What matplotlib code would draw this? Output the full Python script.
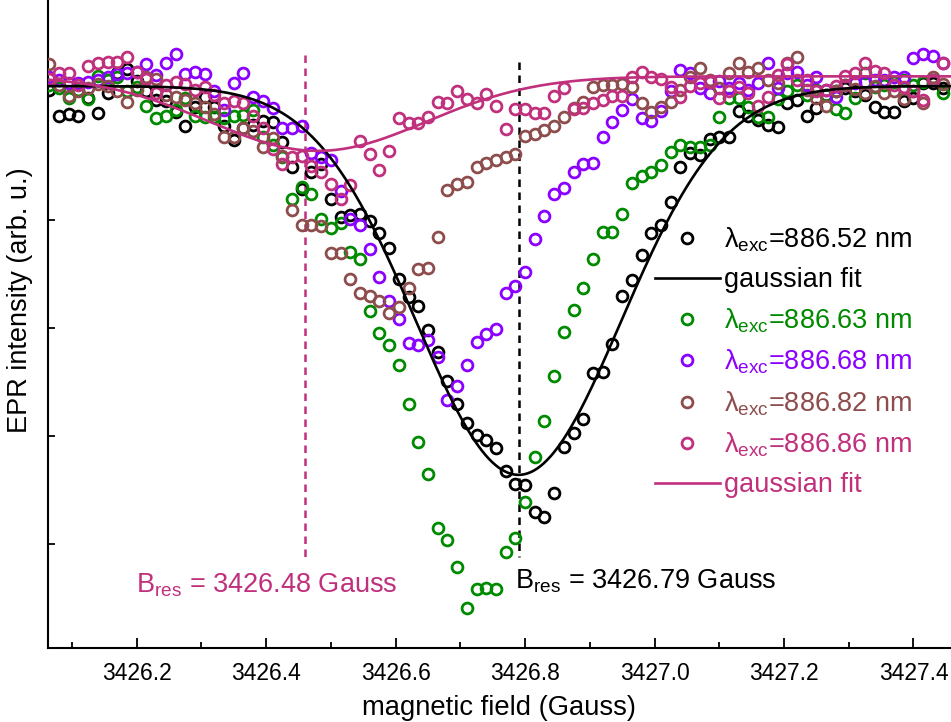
import numpy as np
import matplotlib
matplotlib.use("Agg")
import matplotlib.pyplot as plt

plt.rcParams['font.family'] = ['Liberation Sans', 'DejaVu Sans']
plt.rcParams['mathtext.fontset'] = 'custom'
plt.rcParams['mathtext.rm'] = 'Liberation Sans'

# field sweep (Gauss): uniform steps of 0.015 G
field_start = 3426.065
field_step = 0.015
n_points = 93

# EPR intensity (arb. u.) for each excitation wavelength
epr_88652 = [0.20, -0.04, -0.02, -0.04, 0.13, -0.01, 0.18, 0.36, 0.40, 0.29,
             0.19, 0.11, 0.10, 0.00, -0.13, 0.05, 0.14, 0.05, -0.13, -0.26,
             -0.15, -0.12, -0.08, -0.09, -0.28, -0.51, -0.71, -0.56, -0.48, -0.81,
             -0.97, -0.95, -0.94, -1.01, -1.12, -1.26, -1.55, -1.71, -1.80, -2.02,
             -2.22, -2.49, -2.70, -2.88, -2.99, -3.04, -3.11, -3.32, -3.44, -3.45,
             -3.70, -3.75, -3.53, -3.10, -2.97, -2.84, -2.42, -2.41, -2.15, -1.70,
             -1.56, -1.32, -1.12, -1.05, -0.83, -0.51, -0.38, -0.40, -0.25, -0.23,
             -0.23, 0.01, -0.04, -0.07, -0.12, -0.14, 0.08, 0.11, -0.04, 0.04,
             0.16, 0.19, 0.22, 0.19, 0.16, 0.05, 0.00, 0.00, 0.10, 0.13,
             0.27, 0.27, 0.22]

epr_88663 = [0.25, 0.22, 0.13, 0.20, 0.12, 0.33, 0.30, 0.32, 0.19, 0.23,
             0.06, -0.06, -0.04, 0.02, 0.13, -0.04, -0.05, -0.05, -0.06, -0.04,
             -0.03, 0.02, -0.23, -0.31, -0.42, -0.81, -0.69, -0.76, -0.99, -1.07,
             -1.03, -1.30, -1.36, -1.84, -2.05, -2.16, -2.34, -2.70, -3.06, -3.35,
             -3.85, -3.96, -4.21, -4.59, -4.42, -4.41, -4.42, -4.07, -3.94, -3.61,
             -3.19, -2.86, -2.44, -2.04, -1.83, -1.63, -1.36, -1.11, -1.11, -0.94,
             -0.66, -0.59, -0.56, -0.49, -0.37, -0.31, -0.32, -0.32, -0.31, -0.05,
             0.13, 0.13, 0.05, -0.05, -0.05, 0.12, 0.19, 0.25, 0.16, 0.20,
             0.16, 0.03, -0.01, 0.13, 0.36, 0.23, 0.25, 0.28, 0.30, 0.25,
             0.28, 0.30, 0.18]

epr_88668 = [0.32, 0.30, 0.27, 0.27, 0.28, 0.30, 0.32, 0.35, 0.36, 0.37,
             0.44, 0.34, 0.45, 0.54, 0.35, 0.37, 0.35, 0.19, 0.02, 0.27,
             0.36, 0.14, 0.10, 0.04, -0.15, -0.15, -0.13, -0.38, -0.42, -0.44,
             -0.73, -0.99, -1.05, -1.27, -1.53, -1.75, -1.92, -2.14, -2.16, -2.11,
             -2.27, -2.67, -2.54, -2.34, -2.13, -2.06, -2.01, -1.68, -1.61, -1.48,
             -1.18, -0.96, -0.76, -0.70, -0.56, -0.48, -0.47, -0.23, -0.09, 0.02,
             0.12, -0.06, -0.08, 0.01, 0.19, 0.39, 0.36, 0.22, 0.18, 0.29,
             0.22, 0.27, 0.20, 0.27, 0.45, 0.22, 0.36, 0.37, 0.25, 0.32,
             0.20, 0.14, 0.25, 0.27, 0.28, 0.30, 0.30, 0.32, 0.32, 0.50,
             0.54, 0.52, 0.45]

epr_88682 = [0.44, 0.25, 0.15, 0.19, 0.22, 0.26, 0.24, 0.19, 0.09, 0.20,
             0.32, 0.31, 0.16, 0.14, 0.11, 0.08, 0.05, -0.02, -0.23, -0.23,
             -0.15, -0.18, -0.32, -0.24, -0.41, -0.91, -1.05, -1.05, -1.06, -1.31,
             -1.31, -1.55, -1.68, -1.70, -1.75, -1.86, -1.81, -1.63, -1.45, -1.44,
             -1.16, -0.72, -0.67, -0.65, -0.51, -0.47, -0.44, -0.42, -0.39, -0.22,
             -0.20, -0.17, -0.13, -0.05, 0.04, 0.09, 0.23, 0.25, 0.25, 0.26,
             0.23, 0.08, 0.00, 0.05, 0.09, 0.20, 0.32, 0.41, 0.30, 0.22,
             0.36, 0.45, 0.37, 0.41, 0.30, 0.27, 0.45, 0.51, 0.20, 0.13,
             0.06, 0.19, 0.25, 0.21, 0.18, 0.24, 0.18, 0.19, 0.12, 0.19,
             0.08, 0.32, 0.26]

epr_88686 = [0.31, 0.36, 0.36, 0.25, 0.43, 0.45, 0.46, 0.46, 0.51, 0.37,
             0.31, 0.18, 0.25, 0.28, 0.26, 0.20, 0.23, 0.16, 0.08, 0.10,
             0.08, -0.04, -0.15, -0.34, -0.48, -0.42, -0.41, -0.50, -0.56, -0.67,
             -0.81, -0.68, -0.27, -0.39, -0.54, -0.36, -0.06, -0.10, -0.10, -0.05,
             0.09, 0.08, 0.19, 0.12, 0.08, 0.17, 0.06, -0.16, 0.03, 0.03,
             -0.01, -0.01, 0.15, 0.22, 0.03, 0.04, 0.08, 0.11, 0.15, 0.15,
             0.32, 0.37, 0.32, 0.31, 0.23, 0.14, 0.24, 0.27, 0.28, 0.13,
             0.19, 0.23, 0.18, 0.06, 0.14, 0.34, 0.44, 0.30, 0.30, 0.19,
             0.20, 0.24, 0.33, 0.36, 0.45, 0.38, 0.36, 0.25, 0.23, 0.19,
             0.11, 0.30, 0.45]

# gaussian fit parameters: baseline, depth, centre (G), sigma (G)
fit_88652 = (0.24, 3.60, 3426.79, 0.158)
fit_88686 = (0.33, 0.69, 3426.48, 0.168)

# resonance markers
bres_88652 = 3426.79
bres_88686 = 3426.46

labels = ['886.52', '886.63', '886.68', '886.82', '886.86']
colors = ['black', '#008a00', '#8b00ff', '#8e4d4d', '#c0307c']


def gauss_fit(x, base, depth, centre, sigma):
    return base - depth * np.exp(-(x - centre) ** 2 / (2 * sigma ** 2))


field = field_start + field_step * np.arange(n_points)
x_fit = np.linspace(3426.0, 3427.5, 600)

fig = plt.figure(figsize=(9.51, 7.22), dpi=100)
ax = fig.add_axes([48 / 951, 74 / 722, 1 - 48 / 951, 648 / 722])

mk = dict(marker='o', linestyle='none', markersize=7.8, markeredgewidth=2.0,
          markerfacecolor='none')

series = [epr_88652, epr_88663, epr_88668, epr_88682, epr_88686]
handles = []
for i, (vals, lab, col) in enumerate(zip(series, labels, colors)):
    h, = ax.plot(field, vals, color=col, markeredgecolor=col, zorder=3 + i,
                 label=r'$\mathregular{\lambda_{exc}}$=' + lab + ' nm', **mk)
    handles.append(h)
    if i == 0:
        f, = ax.plot(x_fit, gauss_fit(x_fit, *fit_88652), color='black', lw=1.9,
                     zorder=9, label='gaussian fit')
        handles.append(f)

f2, = ax.plot(x_fit, gauss_fit(x_fit, *fit_88686), color=colors[4], lw=1.9,
              zorder=10, label='gaussian fit')
handles.append(f2)

ax.plot([bres_88686, bres_88686], [0.53, -4.12], color=colors[4], lw=1.8,
        dashes=(3, 2.2), zorder=2)
ax.plot([bres_88652, bres_88652], [0.46, -4.12], color='black', lw=1.8,
        dashes=(3, 2.2), zorder=2)

ax.text(3426.785, -4.41, r'B$_{\mathregular{res}}$ = 3426.79 Gauss', fontsize=19.5,
        color='black', va='baseline', ha='left')
ax.text(3426.199, -4.45, r'B$_{\mathregular{res}}$ = 3426.48 Gauss', fontsize=19.5,
        color=colors[4], va='baseline', ha='left')

ax.set_xlim(3426.063, 3427.458)
ax.set_ylim(-4.963, 1.037)

ax.set_xticks(np.arange(3426.2, 3427.45, 0.2))
ax.set_xticks(np.arange(3426.1, 3427.45, 0.2), minor=True)
ax.set_xticklabels([f'{t:.1f}' for t in np.arange(3426.2, 3427.45, 0.2)])
ax.set_yticks([-4, -3, -2, -1])
ax.set_yticklabels([])
ax.tick_params(axis='x', which='major', direction='in', length=7, width=1.3,
               labelsize=16.5, pad=10)
ax.tick_params(axis='x', which='minor', direction='in', length=4, width=1.3)
ax.tick_params(axis='y', which='major', direction='in', length=5, width=1.3)

for s in ['top', 'right']:
    ax.spines[s].set_visible(False)
for s in ['left', 'bottom']:
    ax.spines[s].set_linewidth(1.5)

ax.set_xlabel('magnetic field (Gauss)', fontsize=19.7, labelpad=7)
ax.set_ylabel('EPR intensity (arb. u.)', fontsize=19.5)
ax.yaxis.set_label_coords(-0.0165, 0.537)

ax.legend(handles=handles, loc='upper left', bbox_to_anchor=(0.672, 0.652),
          frameon=False, fontsize=19.5, labelcolor='linecolor', handlelength=2.4,
          handletextpad=0.15, labelspacing=0.48, borderpad=0, borderaxespad=0)

fig.savefig('out.png', dpi=100)
